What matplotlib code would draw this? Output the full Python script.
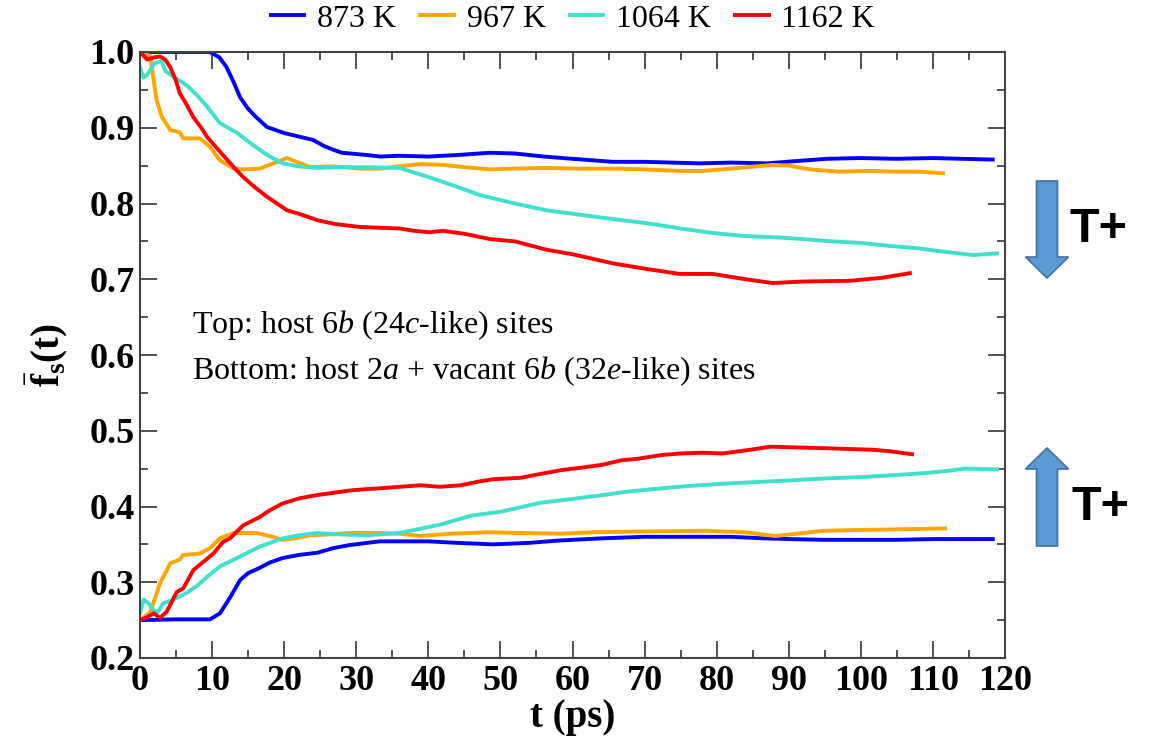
import matplotlib
matplotlib.use("Agg")
import matplotlib.pyplot as plt
from matplotlib.patches import FancyArrow
from matplotlib.ticker import MultipleLocator, FormatStrFormatter

plt.rcParams['font.family'] = ['Liberation Serif', 'DejaVu Serif']
plt.rcParams['mathtext.fontset'] = 'custom'
plt.rcParams['mathtext.rm'] = 'Liberation Serif'
plt.rcParams['mathtext.it'] = 'Liberation Serif:italic'
plt.rcParams['mathtext.bf'] = 'Liberation Serif:bold'

labels = ['873 K', '967 K', '1064 K', '1162 K']
colors = ['#0000ff', '#ffa500', '#40e0d0', '#ff0000']

# upper curves: host 6b sites
t_873_top = [0, 5, 9.7, 11, 12, 13, 13.9, 15, 16, 17.6, 20, 22.2, 24, 25.5, 26.8, 28, 31.5, 33.3, 36, 40,
             44, 48.6, 52, 56, 60, 65.6, 70, 77.7, 82, 87, 91, 95.3, 100, 105, 110, 114, 118.3]
f_873_top = [1.0, 1.0, 1.0, 0.993, 0.98, 0.96, 0.94, 0.925, 0.915, 0.901, 0.893, 0.888, 0.884, 0.876, 0.871,
             0.867, 0.864, 0.862, 0.863, 0.862, 0.864, 0.867, 0.866, 0.862, 0.859, 0.855, 0.855, 0.853, 0.854,
             0.853, 0.856, 0.859, 0.860, 0.859, 0.860, 0.859, 0.858]

t_967_top = [0, 1.4, 2.3, 3, 4.2, 5.5, 6, 8.3, 9.7, 11.1, 13, 14.5, 16.6, 18.5, 20.4, 22, 23.6, 26.8, 30.5,
             33.3, 36, 38.8, 42, 45, 48.6, 52, 56, 61, 66, 70, 74.9, 78, 82, 87.8, 90, 93, 97, 101, 105, 108, 111.4]
f_967_top = [1.0, 0.995, 0.937, 0.915, 0.897, 0.894, 0.886, 0.886, 0.875, 0.857, 0.846, 0.845, 0.846, 0.853,
             0.86, 0.854, 0.848, 0.849, 0.846, 0.846, 0.849, 0.852, 0.851, 0.848, 0.845, 0.846, 0.847, 0.846,
             0.846, 0.845, 0.843, 0.843, 0.846, 0.851, 0.850, 0.845, 0.842, 0.843, 0.842, 0.842, 0.840]

t_1064_top = [0, 0.5, 1, 2, 3, 3.5, 5, 6.5, 8, 9.3, 11.1, 13.5, 15, 16.6, 18, 19.8, 22, 24.6, 28, 32, 36, 40,
              44, 47.2, 52, 56.4, 62, 66, 70.3, 75, 79.5, 84, 88.8, 92, 96, 100, 104, 107.8, 111, 115.6, 118.9]
f_1064_top = [0.98, 0.966, 0.97, 0.985, 0.988, 0.975, 0.965, 0.956, 0.942, 0.928, 0.906, 0.893, 0.882, 0.871,
              0.862, 0.853, 0.849, 0.847, 0.848, 0.848, 0.847, 0.835, 0.822, 0.811, 0.8, 0.791, 0.784, 0.779,
              0.774, 0.767, 0.761, 0.757, 0.755, 0.753, 0.750, 0.748, 0.744, 0.741, 0.737, 0.732, 0.734]

t_1162_top = [0, 1, 2, 2.8, 3.5, 4.2, 5, 5.5, 6.5, 7.4, 8.5, 9.3, 10.5, 11.5, 13, 14.3, 16, 17.6, 19, 20.4,
              22.5, 24.6, 27, 30.5, 33.3, 36, 38, 40.2, 42, 45, 48.6, 52, 56.4, 60, 65.6, 70, 74.9, 79.5, 84,
              87.8, 92, 98.5, 103, 106.8]
f_1162_top = [1.0, 0.99, 0.993, 0.994, 0.99, 0.98, 0.962, 0.946, 0.93, 0.914, 0.9, 0.888, 0.875, 0.864, 0.848,
              0.835, 0.821, 0.809, 0.8, 0.791, 0.785, 0.778, 0.773, 0.769, 0.768, 0.767, 0.764, 0.762, 0.764,
              0.76, 0.753, 0.75, 0.739, 0.733, 0.721, 0.714, 0.707, 0.707, 0.700, 0.695, 0.697, 0.698, 0.702,
              0.708]

# lower curves: host 2a + vacant 6b sites
t_873_bot = [0, 5, 9.7, 11.1, 12.5, 13.9, 15, 16.6, 18, 19.8, 22, 24.6, 26.8, 29, 31.5, 33.3, 36, 40, 44, 49,
             54, 58, 64.1, 70, 78.1, 82, 86.4, 90, 94.9, 100, 105, 110, 114, 118.3]
f_873_bot = [0.25, 0.251, 0.251, 0.259, 0.28, 0.303, 0.312, 0.319, 0.326, 0.332, 0.336, 0.339, 0.345, 0.349,
             0.352, 0.354, 0.354, 0.354, 0.352, 0.350, 0.352, 0.355, 0.358, 0.360, 0.360, 0.360, 0.358, 0.357,
             0.356, 0.356, 0.356, 0.357, 0.357, 0.357]

t_967_bot = [0, 1.4, 2.8, 4.2, 5.5, 6, 8.3, 9.7, 11.1, 13, 16.2, 18, 19.8, 21.5, 23.6, 26, 29.1, 33.3, 36,
             38.9, 43, 48.4, 53, 58.4, 63, 70, 78.1, 84, 88.1, 91, 94.9, 100, 106, 111.7]
f_967_bot = [0.25, 0.26, 0.299, 0.325, 0.33, 0.336, 0.338, 0.345, 0.358, 0.365, 0.365, 0.361, 0.356, 0.358,
             0.362, 0.363, 0.365, 0.365, 0.364, 0.361, 0.364, 0.366, 0.365, 0.364, 0.366, 0.367, 0.368, 0.366,
             0.361, 0.364, 0.368, 0.369, 0.370, 0.371]

t_1064_bot = [0, 0.5, 1.2, 1.9, 2.5, 3.2, 4.6, 6.5, 8, 9.3, 11.1, 13.9, 16.6, 19.8, 22, 24.6, 28, 31.5, 36,
              41.6, 46, 50, 55.6, 60, 64.1, 68, 72.4, 76, 80.8, 85, 89.2, 95, 100.4, 104, 108.8, 112, 114.5,
              118.9]
f_1064_bot = [0.259, 0.277, 0.272, 0.263, 0.261, 0.272, 0.277, 0.286, 0.296, 0.307, 0.321, 0.334, 0.347, 0.358,
              0.362, 0.365, 0.363, 0.362, 0.365, 0.376, 0.388, 0.393, 0.405, 0.41, 0.415, 0.42, 0.424, 0.427,
              0.430, 0.432, 0.434, 0.437, 0.439, 0.441, 0.444, 0.447, 0.450, 0.449]

t_1162_bot = [0, 1, 1.9, 2.8, 3.7, 5.1, 6, 7.4, 8.8, 10.2, 11.5, 12.5, 14.3, 16.6, 18, 19.8, 22.2, 24.5, 26.8,
              29, 31.5, 33.3, 36, 38.9, 41.6, 44.5, 47, 49, 52.9, 55, 58.4, 61, 64.1, 66.8, 69, 72.4, 75, 78.1,
              80.8, 84, 87.5, 91, 94.9, 98, 101.5, 104, 107.1]
f_1162_bot = [0.25, 0.254, 0.259, 0.253, 0.261, 0.287, 0.292, 0.316, 0.327, 0.338, 0.353, 0.358, 0.375, 0.386,
              0.395, 0.404, 0.411, 0.415, 0.418, 0.421, 0.423, 0.424, 0.426, 0.428, 0.426, 0.428, 0.433, 0.436,
              0.438, 0.442, 0.448, 0.451, 0.455, 0.461, 0.463, 0.468, 0.470, 0.471, 0.470, 0.474, 0.479, 0.478,
              0.477, 0.476, 0.475, 0.473, 0.469]

top_t = [t_873_top, t_967_top, t_1064_top, t_1162_top]
top_f = [f_873_top, f_967_top, f_1064_top, f_1162_top]
bot_t = [t_873_bot, t_967_bot, t_1064_bot, t_1162_bot]
bot_f = [f_873_bot, f_967_bot, f_1064_bot, f_1162_bot]

fig = plt.figure(figsize=(11.52, 7.44), dpi=100)
ax = fig.add_axes([140/1152, 1 - 658/744, 865/1152, 606/744])

for i in range(4):
    ax.plot(top_t[i], top_f[i], color=colors[i], lw=2.8, label=labels[i])
    ax.plot(bot_t[i], bot_f[i], color=colors[i], lw=2.8)

ax.xaxis.set_major_locator(MultipleLocator(10))
ax.xaxis.set_minor_locator(MultipleLocator(5))
ax.yaxis.set_major_locator(MultipleLocator(0.1))
ax.yaxis.set_minor_locator(MultipleLocator(0.05))
ax.yaxis.set_major_formatter(FormatStrFormatter('%.1f'))
ax.set_xlim(0, 120)
ax.set_ylim(0.2, 1.0)
ax.tick_params(which='both', direction='in', top=True, right=True, color='#444444')
ax.tick_params(which='major', length=12, width=1.3, labelsize=26, pad=4)
ax.tick_params(axis='x', which='major', pad=5)
ax.tick_params(which='minor', length=6, width=1.3)
for lab in ax.get_xticklabels() + ax.get_yticklabels():
    lab.set_fontweight('bold')
for s in ax.spines.values():
    s.set_color('#444444')
    s.set_linewidth(1.5)

ax.set_xlabel('t (ps)', fontsize=28, fontweight='bold', labelpad=1)
ax.set_ylabel(r'$\bar{\mathbf{f}}_{\mathbf{s}}\mathbf{(t)}$', fontsize=28, labelpad=14)

ax.text(0.06, 0.549, 'Top: host 6$b$ (24$c$-like) sites', transform=ax.transAxes, fontsize=23, va='center')
ax.text(0.06, 0.474, 'Bottom: host 2$a$ + vacant 6$b$ (32$e$-like) sites', transform=ax.transAxes,
        fontsize=23, va='center')

fig.legend(loc='center', bbox_to_anchor=(573/1152, 1 - 19/744), ncol=4, frameon=False, fontsize=23,
           handlelength=1.05, columnspacing=0.75, handletextpad=0.4)

# overlay in pixel coordinates for the T+ arrows
ov = fig.add_axes([0, 0, 1, 1], zorder=5)
ov.set_xlim(0, 1152)
ov.set_ylim(744, 0)
ov.axis('off')
ov.add_patch(FancyArrow(1047, 181, 0, 97, width=21, head_width=43, head_length=21,
                        length_includes_head=True, fc='#5b9bd5', ec='#41719c', lw=1.2))
ov.add_patch(FancyArrow(1047, 546, 0, -98, width=21, head_width=43, head_length=21,
                        length_includes_head=True, fc='#5b9bd5', ec='#41719c', lw=1.2))
ov.text(1069, 229, 'T+', fontsize=35, fontweight='bold', family='Liberation Sans', va='center')
ov.text(1071, 507, 'T+', fontsize=35, fontweight='bold', family='Liberation Sans', va='center')

fig.savefig('out.png', dpi=100)
